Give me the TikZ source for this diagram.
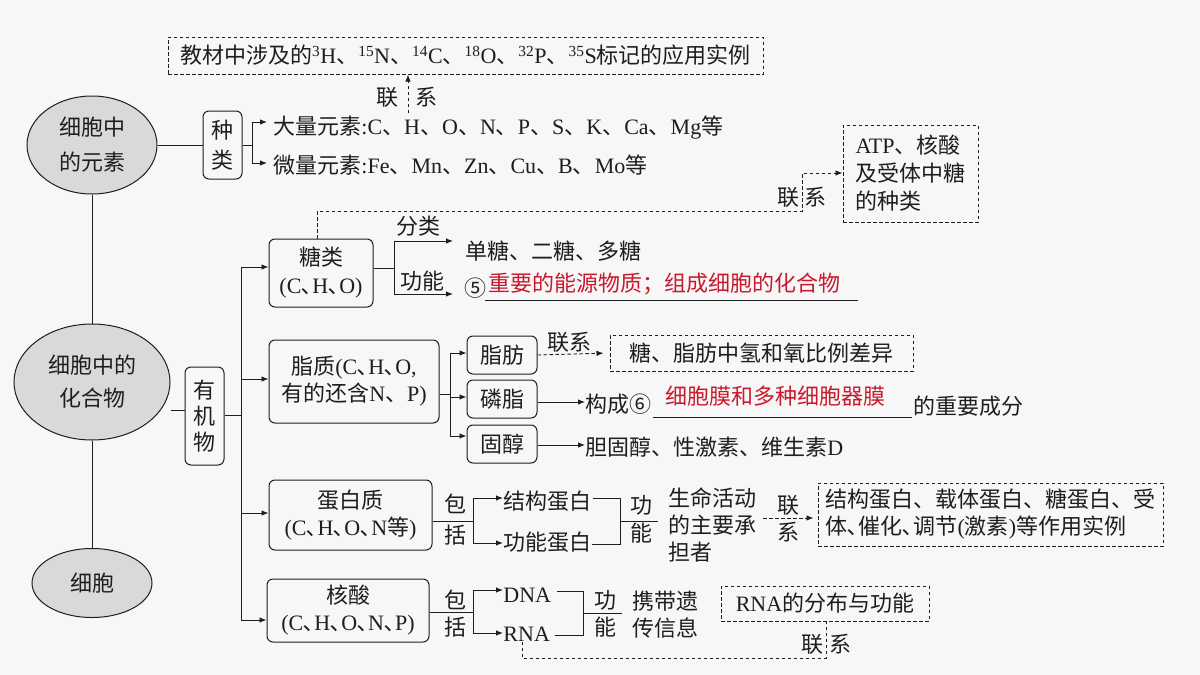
\documentclass[tikz,border=0pt]{standalone}
\usepackage{fontspec}
\setmainfont{Liberation Serif}
\newfontfamily\cjk{Noto Sans CJK SC}
\usetikzlibrary{arrows.meta,shapes.geometric,calc}
\XeTeXinterchartokenstate=1
\newXeTeXintercharclass\CJKcls
\newcount\cjkcc
\cjkcc="3000
\loop \XeTeXcharclass\cjkcc=\CJKcls \advance\cjkcc by 1 \ifnum\cjkcc<"A000 \repeat
\cjkcc="FF00
\loop \XeTeXcharclass\cjkcc=\CJKcls \advance\cjkcc by 1 \ifnum\cjkcc<"FFF0 \repeat
\cjkcc="2460
\loop \XeTeXcharclass\cjkcc=\CJKcls \advance\cjkcc by 1 \ifnum\cjkcc<"2500 \repeat
\XeTeXinterchartoks 0 \CJKcls = {\cjk}
\XeTeXinterchartoks 4095 \CJKcls = {\cjk}
\XeTeXinterchartoks \CJKcls 0 = {\rmfamily}
\XeTeXinterchartoks \CJKcls 4095 = {\rmfamily}
\newcommand\dn{､}
\definecolor{bg}{RGB}{247,247,247}
\definecolor{redt}{RGB}{200,25,45}
\definecolor{ln}{RGB}{30,30,30}
\definecolor{ellfill}{RGB}{217,217,217}
\begin{document}
\begin{tikzpicture}[x=1pt,y=-1pt,
  font=\fontsize{22}{28}\selectfont, line width=0.9pt, draw=ln, text=ln,
  rbox/.style={draw=ln, line width=1pt, rounded corners=6pt, inner sep=0pt, align=center},
  dbox/.style={draw=ln, line width=1pt, dash pattern=on 3.5pt off 2.5pt, inner sep=0pt, align=center},
  ell/.style={ellipse, draw=ln, line width=1pt, fill=ellfill, inner sep=0pt, align=center},
  txt/.style={inner sep=0pt, anchor=west},
  lbl/.style={inner sep=0pt},
  arr/.style={-{Latex[length=7pt,width=5.5pt]}},
  dsh/.style={dash pattern=on 3.5pt off 2.5pt},
  darr/.style={dash pattern=on 3.5pt off 2.5pt, -{Latex[length=7pt,width=5.5pt]}}]
\fill[bg] (0,0) rectangle (1200,675);
\useasboundingbox (0,0) rectangle (1200,675);

% ellipses
\node[ell, minimum width=130pt, minimum height=98pt, font=\fontsize{22}{35}\selectfont] (e1) at (92,145) {细胞中\\的元素};
\node[ell, minimum width=156pt, minimum height=116pt, font=\fontsize{22}{33}\selectfont] (e2) at (92,382) {细胞中的\\化合物};
\node[ell, minimum width=120pt, minimum height=69pt] (e3) at (92,583) {细胞};
\draw (e1) -- (e2);
\draw (e2) -- (e3);

% elements
\node[rbox, minimum width=39pt, minimum height=68pt, font=\fontsize{22}{30}\selectfont] (zl) at (222.5,145) {种\\类};
\draw (e1.east) -- (zl.west);
\coordinate (b1) at (252,145);
\draw (zl.east) -- (b1);
\node[txt] (dl) at (273,128) {大量元素:C、H、O、N、P、S、K、Ca、Mg等};
\node[txt] (wl) at (273,165) {微量元素:Fe、Mn、Zn、Cu、B、Mo等};
\coordinate (a1) at (267,122);
\coordinate (a2) at (267,163);
\draw[arr] (b1) |- (a1);
\draw[arr] (b1) |- (a2);

% top dashed box
\node[dbox, minimum width=595pt, minimum height=37pt] (top) at (465.5,55.5) {教材中涉及的\textsuperscript{3}H、\textsuperscript{15}N、\textsuperscript{14}C、\textsuperscript{18}O、\textsuperscript{32}P、\textsuperscript{35}S标记的应用实例};
\coordinate (c1) at (408,113);
\draw[darr] (c1) -- (c1 |- top.south);
\node[lbl] at (387,97) {联};
\node[lbl] at (426,97) {系};

% organic
\node[rbox, minimum width=39pt, minimum height=98pt, font=\fontsize{22}{26}\selectfont] (yjw) at (204.5,416) {有\\机\\物};
\draw (e2.east |- 0,410) -- (yjw.west |- 0,410);
\coordinate (b2) at (241,415);
\draw (yjw.east |- b2) -- (b2);

% four classes
\node[rbox, minimum width=104pt, minimum height=68pt] (tl) at (321,273) {糖类\\(C\dn H\dn O)};
\node[rbox, minimum width=170pt, minimum height=83pt, font=\fontsize{22}{27}\selectfont] (zz) at (354,381.5) {脂质(C\dn H\dn O,\\有的还含N、P)};
\node[rbox, minimum width=163pt, minimum height=70pt, font=\fontsize{22}{27}\selectfont] (dbz) at (350.5,515) {蛋白质\\(C\dn H\dn O\dn N等)};
\node[rbox, minimum width=162pt, minimum height=63pt, font=\fontsize{22}{27}\selectfont] (hs) at (348,610.5) {核酸\\(C\dn H\dn O\dn N\dn P)};
\draw[arr] (b2) |- (tl.west |- 0,267);
\draw[arr] (b2) |- (zz.west |- 0,379);
\draw[arr] (b2) |- (dbz.west |- 0,513);
\draw[arr] (b2) |- (hs.west |- 0,620);

% sugar
\coordinate (b3) at (394,268);
\draw (tl.east |- b3) -- (b3);
\node[txt] (dt) at (465,251) {单糖、二糖、多糖};
\node[txt] (c5) at (464,288) {⑤};
\node[txt, text=redt] (zy) at (488,284) {重要的能源物质；组成细胞的化合物};
\coordinate (a3) at (453,241);
\coordinate (a4) at (453,294);
\draw[arr] (b3) |- (a3);
\draw[arr] (b3) |- (a4);
\node[lbl] at (418,226) {分类};
\node[lbl] at (422,281) {功能};
\draw (485,300) -- (858,300);

% ATP box
\node[dbox, minimum width=135pt, minimum height=97pt, align=left] (atp) at (910.5,173.5) {ATP、核酸\\及受体中糖\\的种类};
\draw[darr] (tl.north -| 317,0) -- (317,211) -- (802,211) -- (802,173) -- (atp.west |- 0,173);
\node[lbl] at (788,197) {联};
\node[lbl] at (815,197) {系};

% lipids
\coordinate (b4) at (450,394);
\draw (zz.east |- b4) -- (b4);
\node[rbox, minimum width=70pt, minimum height=38pt] (zf) at (502,355) {脂肪};
\node[rbox, minimum width=70pt, minimum height=38pt] (lz) at (502,399) {磷脂};
\node[rbox, minimum width=70pt, minimum height=38pt] (gc) at (502,444) {固醇};
\draw[arr] (b4) |- (zf.west |- 0,353);
\draw[arr] (b4) |- (lz.west |- 0,397);
\draw[arr] (b4) |- (gc.west |- 0,436);
\node[dbox, minimum width=303pt, minimum height=36pt] (tz) at (761.5,353) {糖、脂肪中氢和氧比例差异};
\draw[darr, shorten >=6pt] (zf.east) -- (tz.west);
\node[lbl] at (569,342) {联系};
\node[txt] (gc1) at (585,404) {构成⑥};
\draw[arr] (lz.east |- 0,402) -- (gc1.west |- 0,402);
\node[txt, text=redt] (xbm) at (665,396) {细胞膜和多种细胞器膜};
\draw (653,417) -- (912,417);
\node[txt] (zycf) at (913,406) {的重要成分};
\node[txt] (gcd) at (585,447) {胆固醇、性激素、维生素D};
\draw[arr] (gc.east |- 0,445) -- (gcd.west |- 0,445);

% protein
\coordinate (b5) at (473,521);
\draw (dbz.east |- b5) -- (b5);
\node[lbl] at (455,504) {包};
\node[lbl] at (455,535) {括};
\node[txt] (jg) at (503,501) {结构蛋白};
\node[txt] (gn) at (503,542) {功能蛋白};
\draw[arr] (b5) |- (jg.west |- 0,498);
\draw[arr] (b5) |- (gn.west |- 0,543);
\draw (593,498) -- (620,498) -- (620,544) -- (592,544);
\draw (620,521) -- (658,521);
\node[lbl] at (641,505) {功};
\node[lbl] at (641,533) {能};
\node[txt, align=left, font=\fontsize{22}{27}\selectfont] (smhd) at (668,525) {生命活动\\的主要承\\担者};
\node[dbox, minimum width=345pt, minimum height=63pt, align=left, font=\fontsize{22}{27}\selectfont] (pb) at (990.5,514.5) {结构蛋白、载体蛋白、糖蛋白、受\\体\dn 催化\dn 调节(激素)等作用实例};
\coordinate (d5) at (763,518);
\draw[darr, shorten >=4pt] (d5) -- (pb.west |- d5);
\node[lbl] at (788,505) {联};
\node[lbl] at (788,532) {系};

% nucleic acid
\coordinate (b6) at (473,612);
\draw (hs.east |- b6) -- (b6);
\node[lbl] at (455,600) {包};
\node[lbl] at (455,627) {括};
\node[txt] (dna) at (503,595) {DNA};
\node[txt] (rna) at (503,634) {RNA};
\draw[arr] (b6) |- (dna.west |- 0,590);
\draw[arr] (b6) |- (rna.west |- 0,633);
\draw (557,591) -- (583,591) -- (583,635) -- (555,635);
\draw (583,613) -- (622,613);
\node[lbl] at (605,600) {功};
\node[lbl] at (605,627) {能};
\node[txt, align=left, font=\fontsize{22}{27}\selectfont] (xd) at (632,614.5) {携带遗\\传信息};
\node[dbox, minimum width=208pt, minimum height=35pt] (rb) at (825,603.5) {RNA的分布与功能};
\draw[dsh] (rna.south -| 522,0) -- (522,658) -- (826,658) -- (rb.south -| 826,0);
\node[lbl] at (812,644) {联};
\node[lbl] at (840,644) {系};
\end{tikzpicture}
\end{document}
